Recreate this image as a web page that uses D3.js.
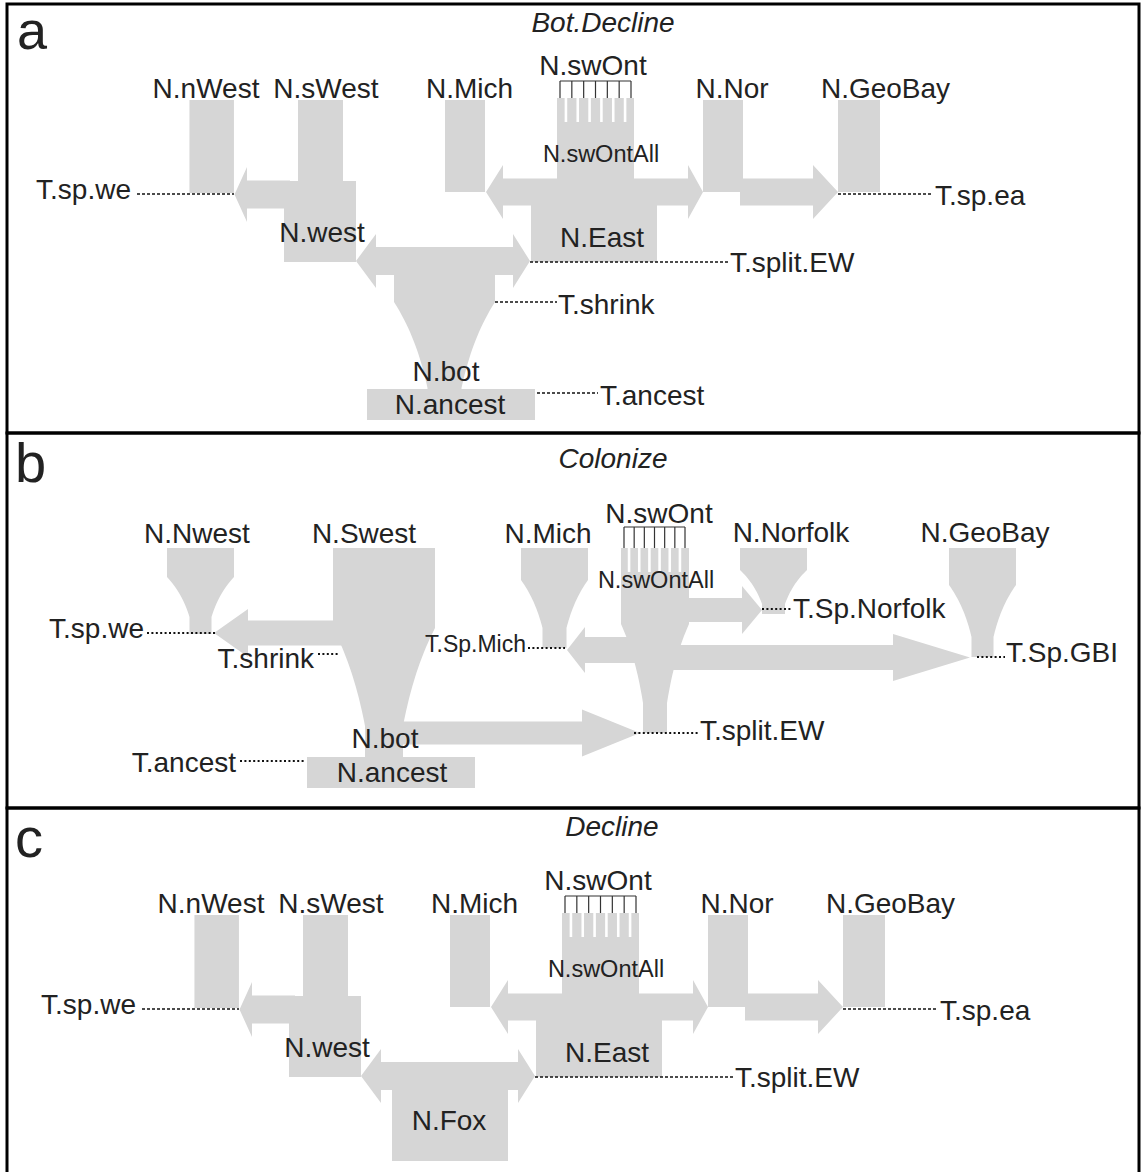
<!DOCTYPE html>
<html>
<head>
<meta charset="utf-8">
<script src="https://cdn.jsdelivr.net/npm/d3@7"></script>
<style>
  body { margin: 0; background: #fff; }
  text { font-family: "Liberation Sans", Arial, sans-serif; fill: #222; }
</style>
</head>
<body>
<svg width="1142" height="1172"></svg>
<script>
const svg = d3.select("svg")

// ---------- data ----------
// x = horizontal position units, t = time units (0 = present, grows downward / back in time)

// panels
const panelIds = ["a", "b", "c"]
const panelTitles = ["Bot.Decline", "Colonize", "Decline"]

// demes shared by the two decline models (a, c)
const declineDemes = [
  { id: "N.nWest", x: 21.17, w0: 4.45, t0: 0, t3: 9.3 },
  { id: "N.sWest", x: 32.05, w0: 4.5, t0: 0, t3: 8.2 },
  { id: "N.west", x: 32.0, w0: 7.2, t0: 8.1, t3: 16.2 },
  { id: "N.Mich", x: 46.5, w0: 4.0, t0: 0, t3: 9.2 },
  { id: "N.swOntAll", x: 59.55, w0: 7.7, t0: -0.2, t3: 10.6 },
  { id: "N.East", x: 59.4, w0: 12.6, t0: 10.5, t3: 16.2 },
  { id: "N.Nor", x: 72.3, w0: 4.0, t0: 0, t3: 9.2 },
  { id: "N.GeoBay", x: 85.9, w0: 4.2, t0: 0, t3: 9.2 }
]
const botDemes = [
  { id: "N.bot", x: 44.45, w0: 10.1, w1: 3.4, t0: 14.7, t1: 20.2, t2: 28.8, t3: 28.95 },
  { id: "N.ancest", x: 45.1, w0: 16.8, t0: 28.9, t3: 32.0 }
]
const foxDemes = [
  { id: "N.Fox", x: 44.5, w0: 11.6, t0: 14.7, t3: 24.6 }
]
const colonizeDemes = [
  { id: "N.Nwest", x: 20.05, w0: 6.7, w1: 2.2, t0: 0, t1: 2.9, t2: 6.9, t3: 8.6 },
  { id: "N.Swest", x: 38.4, w0: 10.2, w1: 3.8, t0: 0, t1: 8.0, t2: 17.8, t3: 20.95 },
  { id: "N.Mich", x: 55.45, w0: 6.7, w1: 2.4, t0: 0, t1: 3.2, t2: 8.0, t3: 10.0 },
  { id: "N.swOntAll", x: 65.5, w0: 6.8, w1: 2.4, t0: 0, t1: 7.6, t2: 15.5, t3: 18.5 },
  { id: "N.Norfolk", x: 77.35, w0: 6.7, w1: 2.3, t0: 0, t1: 2.2, t2: 5.6, t3: 6.6 },
  { id: "N.GeoBay", x: 98.25, w0: 6.7, w1: 2.2, t0: 0, t1: 3.7, t2: 8.9, t3: 10.9 },
  { id: "N.ancest", x: 39.1, w0: 16.8, t0: 20.9, t3: 24.0 }
]

// migration / founding arrows: tail, tip, time, shaft half-width, head half-width, head length
const declineArrows = [
  { from: 29.0, to: 23.45, t: 9.45, hs: 1.4, hh: 2.75, len: 1.25 },
  { from: 56.0, to: 48.6, t: 9.2, hs: 1.35, hh: 2.7, len: 1.7 },
  { from: 63.0, to: 70.3, t: 9.2, hs: 1.35, hh: 2.7, len: 1.5 },
  { from: 74.0, to: 83.8, t: 9.2, hs: 1.35, hh: 2.7, len: 2.5 },
  { from: 44.4, to: 35.6, t: 16.1, hs: 1.4, hh: 2.7, len: 2.0 },
  { from: 44.4, to: 53.0, t: 16.1, hs: 1.4, hh: 2.7, len: 1.7 }
]
const colonizeArrows = [
  { from: 36.0, to: 21.4, t: 8.5, hs: 1.25, hh: 2.4, len: 3.4 },
  { from: 64.0, to: 56.7, t: 10.2, hs: 1.3, hh: 2.3, len: 1.8 },
  { from: 66.0, to: 76.2, t: 6.2, hs: 1.2, hh: 2.4, len: 2.0 },
  { from: 66.0, to: 97.0, t: 10.95, hs: 1.25, hh: 2.35, len: 7.7 },
  { from: 39.0, to: 64.0, t: 18.5, hs: 1.15, hh: 2.35, len: 5.8 }
]

// event times: dotted line span, label position (lx, lt = label baseline), side of label
const declineTimes = [
  { id: "T.sp.we", x0: 13.7, x1: 23.4, t: 9.4, lx: 13.1, lt: 9.9, anchor: "end" },
  { id: "T.sp.ea", x0: 83.8, x1: 93.3, t: 9.4, lx: 93.5, lt: 10.5, anchor: "start" },
  { id: "T.split.EW", x0: 53.0, x1: 72.8, t: 16.2, lx: 73.0, lt: 17.2, anchor: "start" }
]
const botTimes = [
  { id: "T.shrink", x0: 49.5, x1: 55.7, t: 20.2, lx: 55.8, lt: 21.4, anchor: "start" },
  { id: "T.ancest", x0: 53.7, x1: 59.8, t: 29.3, lx: 60.0, lt: 30.5, anchor: "start" }
]
const colonizeTimes = [
  { id: "T.sp.we", x0: 14.7, x1: 21.6, t: 8.5, lx: 14.4, lt: 9.0, anchor: "end" },
  { id: "T.shrink", x0: 31.8, x1: 33.8, t: 10.6, lx: 31.4, lt: 12.0, anchor: "end" },
  { id: "T.Sp.Mich", x0: 52.8, x1: 56.5, t: 10.0, lx: 52.6, lt: 10.4, anchor: "end", small: true },
  { id: "T.Sp.Norfolk", x0: 76.2, x1: 79.2, t: 6.1, lx: 79.3, lt: 7.0, anchor: "start" },
  { id: "T.Sp.GBI", x0: 97.7, x1: 100.5, t: 10.9, lx: 100.6, lt: 11.4, anchor: "start" },
  { id: "T.split.EW", x0: 63.4, x1: 69.9, t: 18.5, lx: 70.0, lt: 19.2, anchor: "start" },
  { id: "T.ancest", x0: 24.0, x1: 30.5, t: 21.3, lx: 23.6, lt: 22.4, anchor: "end" }
]

// deme labels
const declineLabels = [
  { text: "N.nWest", x: 20.6, t: -0.2 },
  { text: "N.sWest", x: 32.6, t: -0.2 },
  { text: "N.Mich", x: 46.95, t: -0.2 },
  { text: "N.swOnt", x: 59.3, t: -2.5 },
  { text: "N.Nor", x: 73.2, t: -0.2 },
  { text: "N.GeoBay", x: 88.55, t: -0.2 },
  { text: "N.swOntAll", x: 60.1, t: 6.2, small: true },
  { text: "N.west", x: 32.2, t: 14.2 },
  { text: "N.East", x: 60.2, t: 14.7 }
]
const botLabels = [
  { text: "N.bot", x: 44.6, t: 28.1 },
  { text: "N.ancest", x: 45.0, t: 31.4 }
]
const foxLabels = [
  { text: "N.Fox", x: 44.4, t: 21.5 }
]
const colonizeLabels = [
  { text: "N.Nwest", x: 19.7, t: -0.5 },
  { text: "N.Swest", x: 36.4, t: -0.5 },
  { text: "N.Mich", x: 54.8, t: -0.5 },
  { text: "N.swOnt", x: 65.9, t: -2.5 },
  { text: "N.Norfolk", x: 79.1, t: -0.6 },
  { text: "N.GeoBay", x: 98.5, t: -0.6 },
  { text: "N.swOntAll", x: 65.6, t: 4.0, small: true },
  { text: "N.bot", x: 38.5, t: 20.0 },
  { text: "N.ancest", x: 39.2, t: 23.4 }
]

// sample combs (N.swOnt): x span, bracket time, column top, teeth end
const declineComb = { x0: 56.0, x1: 63.1, n: 7, tb: -1.9, tt: -0.2, te: 2.2 }
const colonizeComb = { x0: 62.4, x1: 68.5, n: 7, tb: -2.1, tt: 0, te: 2.4 }

const panels = [
  { id: "a", demes: declineDemes.concat(botDemes), arrows: declineArrows, times: declineTimes.concat(botTimes),
    labels: declineLabels.concat(botLabels), comb: declineComb },
  { id: "b", demes: colonizeDemes, arrows: colonizeArrows, times: colonizeTimes,
    labels: colonizeLabels, comb: colonizeComb },
  { id: "c", demes: declineDemes.concat(foxDemes), arrows: declineArrows, times: declineTimes,
    labels: declineLabels.concat(foxLabels), comb: declineComb }
]

// ---------- layout ----------
const frame = { left: 7, right: 1139, top: 4 }
const bands = { a: [4, 433], b: [433, 808], c: [808, 1190] }
const titlePos = { a: [603, 32], b: [613, 468], c: [612, 836] }
const letterPos = { a: [17, 49, 54], b: [15, 482, 56], c: [15, 857, 56] }

const scaleX = {
  a: d3.scaleLinear().domain([0, 100]).range([0, 1000]),
  b: d3.scaleLinear().domain([0, 100]).range([0, 1000]),
  c: d3.scaleLinear().domain([0, 100]).range([5, 1005])
}
const scaleY = {
  a: d3.scaleLinear().domain([0, 30]).range([100, 400]),
  b: d3.scaleLinear().domain([0, 24]).range([548, 788]),
  c: d3.scaleLinear().domain([0, 30]).range([915, 1215])
}

const grey = "#d6d6d6"
const bigFont = 28, smallFont = 23, combFont = 23.5

function demePath(d, x, y) {
  const w0 = d.w0, w1 = d.w1 ?? d.w0
  const t1 = d.t1 ?? d.t3, t2 = d.t2 ?? d.t3
  const steps = 20
  const left = [[d.x - w0 / 2, d.t0], [d.x - w0 / 2, t1]]
  const right = [[d.x + w0 / 2, d.t0], [d.x + w0 / 2, t1]]
  for (let i = 1; i <= steps; i++) {
    const s = i / steps
    const w = w0 * Math.pow(w1 / w0, s)
    const tt = t1 + s * (t2 - t1)
    left.push([d.x - w / 2, tt])
    right.push([d.x + w / 2, tt])
  }
  left.push([d.x - w1 / 2, d.t3])
  right.push([d.x + w1 / 2, d.t3])
  const pts = left.concat(right.reverse())
  return d3.line().x(p => x(p[0])).y(p => y(p[1]))(pts) + "Z"
}

function arrowPath(d, x, y) {
  const dir = Math.sign(d.to - d.from)
  const base = d.to - dir * d.len
  const pts = [
    [d.from, d.t - d.hs], [base, d.t - d.hs], [base, d.t - d.hh], [d.to, d.t],
    [base, d.t + d.hh], [base, d.t + d.hs], [d.from, d.t + d.hs]
  ]
  return d3.line().x(p => x(p[0])).y(p => y(p[1]))(pts) + "Z"
}

// ---------- draw ----------
panels.forEach((p, i) => {
  const x = scaleX[p.id], y = scaleY[p.id]
  const g = svg.append("g").attr("class", "panel-" + p.id)

  g.selectAll("path.deme").data(p.demes).join("path")
    .attr("class", "deme").attr("d", d => demePath(d, x, y)).attr("fill", grey)

  g.selectAll("path.arrow").data(p.arrows).join("path")
    .attr("class", "arrow").attr("d", d => arrowPath(d, x, y)).attr("fill", grey)

  // comb of sampled sub-populations
  const c = p.comb
  const ticks = d3.range(c.n).map(k => c.x0 + k * (c.x1 - c.x0) / (c.n - 1))
  g.append("line").attr("x1", x(c.x0)).attr("x2", x(c.x1)).attr("y1", y(c.tb)).attr("y2", y(c.tb))
    .attr("stroke", "#333").attr("stroke-width", 1.2)
  g.selectAll("line.tick").data(ticks).join("line").attr("class", "tick")
    .attr("x1", d => x(d)).attr("x2", d => x(d)).attr("y1", y(c.tb)).attr("y2", y(c.tt))
    .attr("stroke", "#333").attr("stroke-width", 1.2)
  g.selectAll("line.gap").data(ticks.slice(1)).join("line").attr("class", "gap")
    .attr("x1", (d, k) => (x(d) + x(ticks[k])) / 2).attr("x2", (d, k) => (x(d) + x(ticks[k])) / 2)
    .attr("y1", y(c.tt) - 1).attr("y2", y(c.te))
    .attr("stroke", "#fff").attr("stroke-width", 2.6)

  // event time lines
  const dash = p.id === "b" ? { w: 2, a: "2,2.4" } : { w: 1.3, a: "3,2" }
  g.selectAll("line.time").data(p.times).join("line").attr("class", "time")
    .attr("x1", d => x(d.x0)).attr("x2", d => x(d.x1)).attr("y1", d => y(d.t)).attr("y2", d => y(d.t))
    .attr("stroke", "#111").attr("stroke-width", dash.w).attr("stroke-dasharray", dash.a)
  g.selectAll("text.time").data(p.times).join("text").attr("class", "time")
    .attr("x", d => x(d.lx)).attr("y", d => y(d.lt)).attr("text-anchor", d => d.anchor)
    .attr("font-size", d => d.small ? smallFont : bigFont).text(d => d.id)

  g.selectAll("text.deme").data(p.labels).join("text").attr("class", "deme")
    .attr("x", d => x(d.x)).attr("y", d => y(d.t)).attr("text-anchor", "middle")
    .attr("font-size", d => d.small ? combFont : bigFont).text(d => d.text)

  // title and panel letter
  g.append("text").attr("x", titlePos[p.id][0]).attr("y", titlePos[p.id][1])
    .attr("text-anchor", "middle").attr("font-style", "italic").attr("font-size", 28).text(panelTitles[i])
  g.append("text").attr("x", letterPos[p.id][0]).attr("y", letterPos[p.id][1])
    .attr("font-size", letterPos[p.id][2]).text(panelIds[i])
})

// frames
const frameG = svg.append("g")
Object.values(bands).forEach(b => {
  frameG.append("rect").attr("x", frame.left).attr("y", b[0])
    .attr("width", frame.right - frame.left).attr("height", b[1] - b[0])
    .attr("fill", "none").attr("stroke", "#000").attr("stroke-width", 3)
})
</script>
</body>
</html>
